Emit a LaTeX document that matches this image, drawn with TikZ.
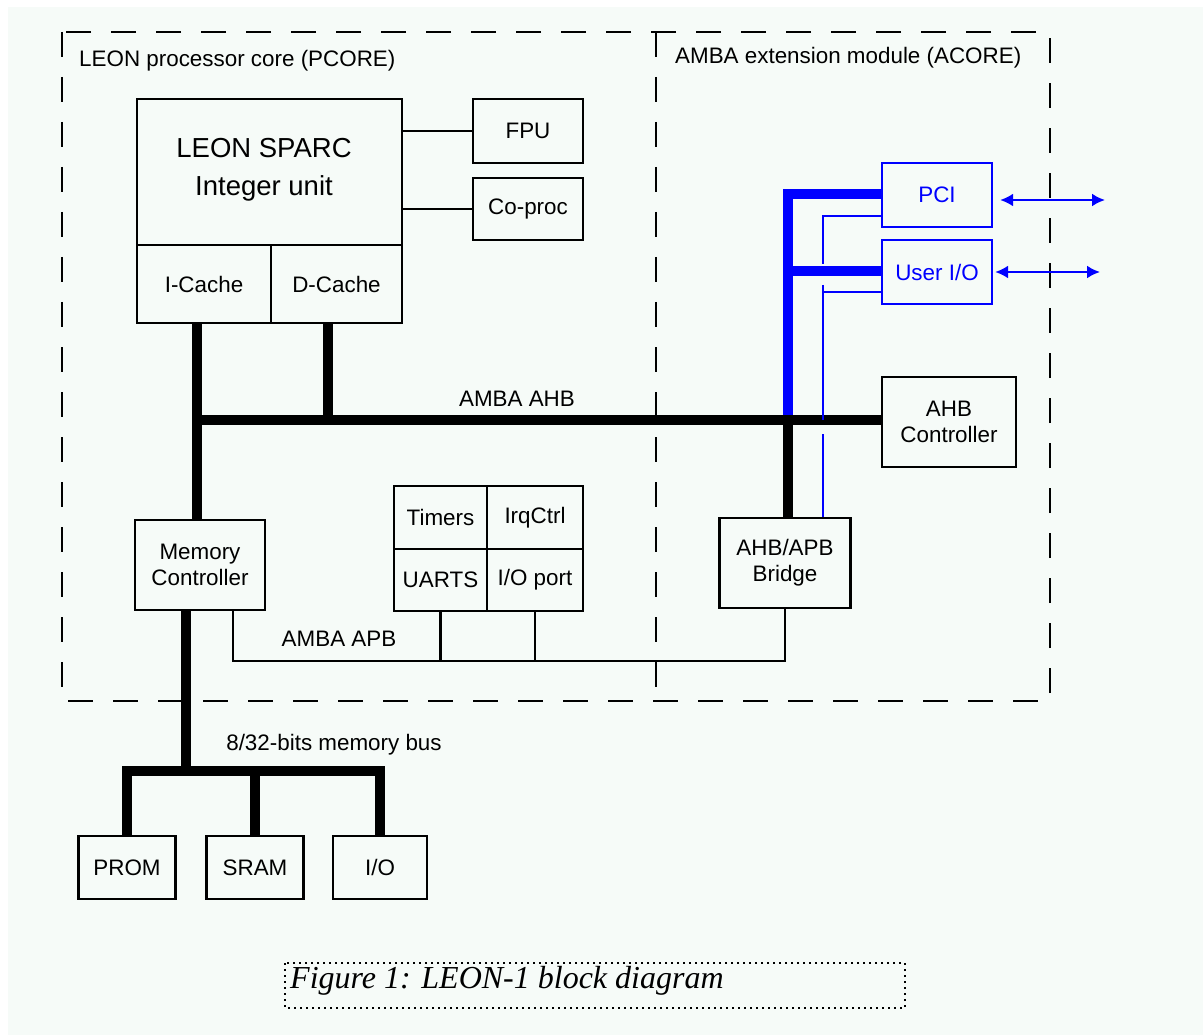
\documentclass[tikz,border=0pt]{standalone}
\usepackage{fontspec}
\setmainfont{Liberation Sans}
\newfontfamily\capfont{Liberation Serif}
\usetikzlibrary{arrows.meta}
\definecolor{bgc}{HTML}{F6FBF8}
\definecolor{pblue}{HTML}{0000FF}
\newcommand\lblfnt{\fontsize{22.4}{26}\selectfont}
\begin{document}
\begin{tikzpicture}[x=1pt,y=-1pt,
  box/.style={draw, line width=2.3pt, inner sep=0pt, align=center, font=\lblfnt},
  bluebox/.style={box, draw=pblue, text=pblue},
  bus/.style={line width=10pt},
  bluebus/.style={line width=10pt, draw=pblue},
  wire/.style={line width=2.2pt},
  bluewire/.style={line width=2.2pt, draw=pblue},
  frame/.style={line width=2.2pt, dash pattern=on 25pt off 20pt},
  lbl/.style={inner sep=0pt, font=\lblfnt},
  dblarrow/.style={bluewire, {Latex[length=13pt,width=13pt]}-{Latex[length=13pt,width=13pt]}}]

\useasboundingbox (0,0) rectangle (1203,1035);
\fill[white] (0,0) rectangle (1203,1035);
\fill[bgc] (8,7) rectangle (1203,1035);

% frames
\draw[frame] (62,32) rectangle (1050,701);
\draw[frame] (656,32) -- (656,701);
\node[lbl, anchor=west] (pcorelbl) at (79,61) {LEON processor core (PCORE)};
\node[lbl, anchor=west] (acorelbl) at (675,58) {AMBA extension module (ACORE)};

% processor core
\node[box, minimum width=265pt, minimum height=146pt] (iu) at (269.5,172) {};
\node[lbl, font=\fontsize{27.5}{38}\selectfont, align=center] (iutext) at (264,170) {LEON SPARC\\Integer unit};
\node[box, minimum width=134pt, minimum height=78pt] (icache) at (204,284) {I-Cache};
\node[box, minimum width=131pt, minimum height=78pt] (dcache) at (336.5,284) {D-Cache};
\node[box, minimum width=110pt, minimum height=64pt] (fpu) at (528,131) {FPU};
\node[box, minimum width=110pt, minimum height=62pt] (coproc) at (528,209) {Co-proc};
\draw[wire] (fpu.west) -- (fpu.west -| iu.east);
\draw[wire] (coproc.west) -- (coproc.west -| iu.east);

\node[box, minimum width=130pt, minimum height=90pt] (mc) at (200,565) {Memory\\Controller};
\node[box, minimum width=93pt, minimum height=63pt] (timers) at (440.5,517.5) {Timers};
\node[box, minimum width=96pt, minimum height=63pt] (irq) at (535,517.5) {IrqCtrl};
\node[box, minimum width=93pt, minimum height=62pt] (uarts) at (440.5,580) {UARTS};
\node[box, minimum width=96pt, minimum height=62pt] (ioport) at (535,580) {I/O port};

% ACORE
\node[bluebox, minimum width=110pt, minimum height=64pt] (pci) at (937,195) {PCI};
\node[bluebox, minimum width=110pt, minimum height=64pt] (uio) at (937,272) {User I/O};
\node[box, minimum width=134pt, minimum height=90pt] (ahbc) at (949,422) {AHB\\Controller};
\node[box, minimum width=131pt, minimum height=90pt] (bridge) at (785,563) {AHB/APB\\Bridge};

% memory devices
\node[box, minimum width=97pt, minimum height=63pt] (prom) at (127,867.5) {PROM};
\node[box, minimum width=97pt, minimum height=63pt] (sram) at (255,867.5) {SRAM};
\node[box, minimum width=94pt, minimum height=63pt] (io) at (380,867.5) {I/O};

% AHB bus
\coordinate (ahbL) at (197,420);
\coordinate (dcx) at (328,420);
\coordinate (brx) at (788,420);
\coordinate (pcitap) at (788,194);
\coordinate (uiotap) at (788,271);
\draw[bluebus] (brx) -- (pcitap) -- (pcitap -| pci.west);
\draw[bluebus] (uiotap) -- (uiotap -| uio.west);
\draw[bus] (icache.south -| ahbL) -- (mc.north -| ahbL);
\draw[bus] (ahbL) -- (ahbL -| ahbc.west);
\draw[bus] (dcache.south -| dcx) -- (dcx);
\draw[bus] (brx) -- (brx |- bridge.north);
\node[lbl] (ahblbl) at (517,399) {AMBA AHB};

% APB (blue thin) links
\coordinate (tA) at (823,216);
\coordinate (tB) at (823,292);
\draw[bluewire] (pci.west |- tA) -- (tA) -- ++(0,48);
\draw[bluewire] (uio.west |- tB) -- (tB);
\draw[bluewire] (tB) ++(0,-7) -- ++(0,135);
\draw[bluewire] (tB) ++(0,142) -- (tB |- bridge.north);

% external arrows
\coordinate (pciEnd) at (1105,200);
\coordinate (uioEnd) at (1100,272);
\draw[dblarrow, shorten <=7pt] (pci.east |- pciEnd) -- (pciEnd);
\draw[dblarrow, shorten <=2pt] (uio.east |- uioEnd) -- (uioEnd);

% APB bus
\coordinate (apb) at (233,661);
\draw[wire] (mc.south -| apb) -- (apb) -| (bridge.south);
\draw[wire] (uarts.south) -- (uarts.south |- apb);
\draw[wire] (ioport.south) -- (ioport.south |- apb);
\node[lbl] (apblbl) at (339,639) {AMBA APB};

% memory bus
\coordinate (mb) at (186,771);
\draw[bus] (mc.south -| mb) -- (mb);
\draw[bus] (prom.north) -- (prom.north |- mb) -- (io.north |- mb) -- (io.north);
\draw[bus] (sram.north) -- (sram.north |- mb);
\node[lbl] (mblbl) at (334,745) {8/32-bits memory bus};

% caption
\draw[line width=2pt, dash pattern=on 2pt off 4pt] (285,963) rectangle (905,1008);
\node[lbl, anchor=base west, font=\capfont\itshape\fontsize{32}{36}\selectfont] (cap) at (290,988) {Figure 1: LEON-1 block diagram};
\end{tikzpicture}
\end{document}
